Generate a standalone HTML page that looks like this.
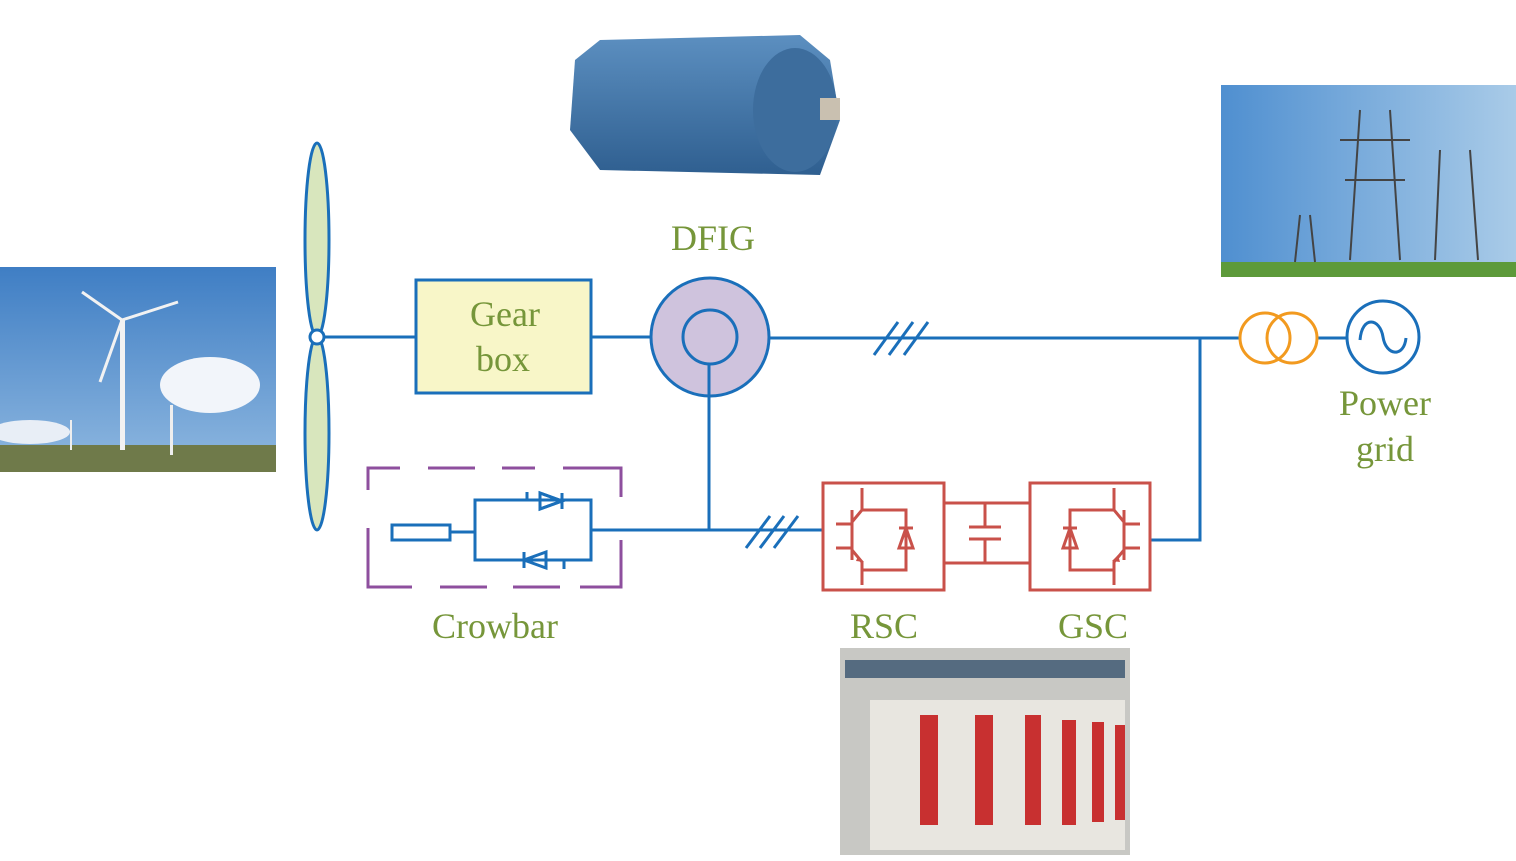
<!DOCTYPE html>
<html><head><meta charset="utf-8"><style>
html,body{margin:0;padding:0;background:#fff;}
svg{display:block;}
text{font-family:"Liberation Serif",serif;fill:#76963a;}
</style></head><body>
<svg width="1516" height="861" viewBox="0 0 1516 861" xmlns="http://www.w3.org/2000/svg">
<defs>
<linearGradient id="sky1" x1="0" y1="0" x2="0" y2="1"><stop offset="0" stop-color="#3f7ec4"/><stop offset="1" stop-color="#8fb8e0"/></linearGradient>
<linearGradient id="sky2" x1="0" y1="0" x2="1" y2="0"><stop offset="0" stop-color="#4f8fd0"/><stop offset="1" stop-color="#a9cbe8"/></linearGradient>
<linearGradient id="mot" x1="0" y1="0" x2="0" y2="1"><stop offset="0" stop-color="#5c8fc0"/><stop offset="1" stop-color="#2f5f90"/></linearGradient>
</defs>
<!-- wind turbine photo -->
<rect x="0" y="267" width="276" height="205" fill="url(#sky1)"/>
<ellipse cx="210" cy="385" rx="50" ry="28" fill="#f2f5fa"/>
<ellipse cx="30" cy="432" rx="40" ry="12" fill="#e8eef6"/>
<rect x="0" y="445" width="276" height="27" fill="#6f7a4a"/>
<rect x="120" y="320" width="5" height="130" fill="#f2f2f2"/>
<line x1="122" y1="320" x2="82" y2="292" stroke="#f2f2f2" stroke-width="3"/>
<line x1="122" y1="320" x2="178" y2="302" stroke="#f2f2f2" stroke-width="3"/>
<line x1="122" y1="320" x2="100" y2="382" stroke="#f2f2f2" stroke-width="3"/>
<rect x="170" y="405" width="3" height="50" fill="#eee"/>
<rect x="70" y="420" width="2" height="30" fill="#eee"/>
<!-- motor photo -->
<path d="M575 60 L600 40 L800 35 L830 60 L840 120 L820 175 L600 170 L570 130 Z" fill="url(#mot)"/>
<ellipse cx="795" cy="110" rx="42" ry="62" fill="#3d6d9d"/>
<rect x="820" y="98" width="20" height="22" fill="#c9c0b0"/>
<!-- power grid photo -->
<rect x="1221" y="85" width="295" height="192" fill="url(#sky2)"/>
<rect x="1221" y="262" width="295" height="15" fill="#5d9a3a"/>
<path d="M1360 110 L1350 260 M1390 110 L1400 260 M1340 140 L1410 140 M1345 180 L1405 180 M1440 150 L1435 260 M1470 150 L1478 260 M1300 215 L1295 262 M1310 215 L1315 262" stroke="#444" stroke-width="2" fill="none"/>
<!-- converter photo -->
<rect x="840" y="648" width="290" height="207" fill="#c8c8c4"/>
<rect x="870" y="700" width="255" height="150" fill="#e8e6e0"/>
<g fill="#c83030"><rect x="920" y="715" width="18" height="110"/><rect x="975" y="715" width="18" height="110"/><rect x="1025" y="715" width="16" height="110"/><rect x="1062" y="720" width="14" height="105"/><rect x="1092" y="722" width="12" height="100"/><rect x="1115" y="725" width="10" height="95"/></g>
<rect x="845" y="660" width="280" height="18" fill="#556b80"/>

<!-- blades -->
<g stroke="#1a6fba" stroke-width="3" fill="#d8e6bd">
<ellipse cx="317" cy="240" rx="12" ry="97"/>
<ellipse cx="317" cy="433" rx="12" ry="97"/>
<circle cx="317" cy="337" r="7" fill="#fff"/>
</g>
<g stroke="#1a6fba" stroke-width="3" fill="none">
<line x1="324" y1="337" x2="416" y2="337"/>
<rect x="416" y="280" width="175" height="113" fill="#f8f6c8"/>
<line x1="591" y1="337" x2="651" y2="337"/>
<circle cx="710" cy="337" r="59" fill="#cfc3dd"/>
<circle cx="710" cy="337" r="27"/>
<line x1="769" y1="338" x2="1240" y2="338"/>
<line x1="874" y1="355" x2="898" y2="322"/><line x1="889" y1="355" x2="913" y2="322"/><line x1="904" y1="355" x2="928" y2="322"/><line x1="919" y1="355" x2="943" y2="322" stroke-width="0"/>
<polyline points="1200,338 1200,540 1150,540"/>
<line x1="709" y1="364" x2="709" y2="530"/>
<line x1="591" y1="530" x2="823" y2="530"/>
<line x1="746" y1="548" x2="770" y2="516"/><line x1="760" y1="548" x2="784" y2="516"/><line x1="774" y1="548" x2="798" y2="516"/><line x1="788" y1="548" x2="812" y2="516" stroke-width="0"/>
<line x1="1318" y1="338" x2="1347" y2="338"/>
<circle cx="1383" cy="337" r="36"/>
<path d="M1360 340 C1362 315 1380 318 1383 337 C1386 356 1404 358 1406 338"/>
<!-- crowbar -->
<rect x="392" y="525" width="58" height="15"/>
<line x1="450" y1="532" x2="475" y2="532"/>
<rect x="475" y="500" width="116" height="60"/>
<path d="M540 493 L540 509 L562 501 Z M562 493 L562 509" />
<path d="M527 492 L527 500"/>
<path d="M546 552 L546 568 L524 560 Z M524 552 L524 568"/>
<path d="M564 560 L564 569"/>
</g>
<g stroke="#1a6fba" stroke-width="3"><path d="M540 493 L540 509 L562 501 Z" fill="#1a6fba" fill-opacity="0"/></g>
<!-- crowbar dashed box -->
<g stroke="#8e4f9e" stroke-width="3" fill="none">
<path d="M368 490 L368 468 L400 468 M428 468 L475 468 M502 468 L525 468 M503 468 L535 468 M563 468 L621 468 L621 497"/>
<path d="M368 528 L368 587 L412 587 M440 587 L487 587 M513 587 L560 587 M580 587 L621 587 L621 540"/>
</g>
<!-- converters -->
<g stroke="#c9514a" stroke-width="3" fill="none">
<rect x="823" y="483" width="121" height="107"/>
<rect x="1030" y="483" width="120" height="107"/>
<line x1="944" y1="503" x2="1030" y2="503"/>
<line x1="944" y1="563" x2="1030" y2="563"/>
<line x1="985" y1="503" x2="985" y2="527"/><line x1="969" y1="527" x2="1001" y2="527"/>
<line x1="969" y1="539" x2="1001" y2="539"/><line x1="985" y1="539" x2="985" y2="563"/>
<!-- RSC igbt -->
<line x1="836" y1="524" x2="852" y2="524"/><line x1="836" y1="548" x2="852" y2="548"/>
<line x1="852" y1="510" x2="852" y2="560"/>
<path d="M852 522 L862 510 L862 488 M862 510 L906 510 L906 570 L862 570 M852 550 L862 562 L862 585"/>
<path d="M899 548 L913 548 L906 528 Z M899 528 L913 528"/>
<!-- GSC igbt -->
<line x1="1124" y1="524" x2="1140" y2="524"/><line x1="1124" y1="548" x2="1140" y2="548"/>
<line x1="1124" y1="510" x2="1124" y2="560"/>
<path d="M1124 522 L1114 510 L1114 488 M1114 510 L1070 510 L1070 570 L1114 570 M1124 550 L1114 562 L1114 585"/>
<path d="M1063 548 L1077 548 L1070 528 Z M1063 528 L1077 528"/>
</g>
<g fill="#c9514a"><path d="M858 556 L864 562 L856 561 Z"/><path d="M1112 561 L1118 555 L1120 562 Z"/></g>
<!-- transformer -->
<g stroke="#f29a1f" stroke-width="3" fill="none">
<circle cx="1265" cy="338" r="25"/><circle cx="1292" cy="338" r="25"/>
</g>
<!-- labels -->
<g font-size="36" text-anchor="middle">
<text x="505" y="326">Gear</text>
<text x="503" y="371">box</text>
<text x="713" y="250">DFIG</text>
<text x="1385" y="415">Power</text>
<text x="1385" y="461">grid</text>
<text x="495" y="638">Crowbar</text>
<text x="884" y="638">RSC</text>
<text x="1093" y="638">GSC</text>
</g>
</svg>
</body></html>
